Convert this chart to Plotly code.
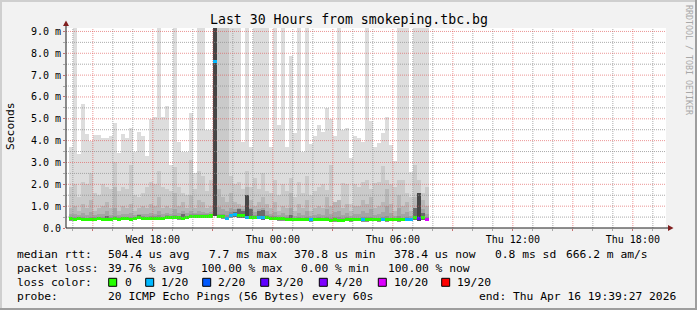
import plotly.graph_objects as go
import pandas as pd

# ---------------- data ----------------
TITLE = "Last 30 Hours from smokeping.tbc.bg"
START = "2026-04-15 13:39:27"
END = "2026-04-16 19:39:27"
FIRST_BAR = "2026-04-15 13:48:27"   # start of first 12-min consolidated step
STEP_MIN = 12
F = 12.0   # value beyond the top of the chart

# median rtt per 12-min step (ms)
median = [0.42,0.41,0.42,0.41,0.38,0.40,0.41,0.42,0.41,0.39,0.41,0.42,0.41,0.42,0.42,0.41,0.43,0.47,0.44,0.43,
          0.44,0.44,0.45,0.44,0.50,0.48,0.47,0.46,0.45,0.47,0.52,0.53,0.52,0.54,0.53,0.55,
          7.62,
          0.52,0.51,0.45,0.58,0.60,0.57,0.56,0.50,0.48,0.48,0.47,0.46,0.47,
          0.45,0.44,0.42,0.42,0.41,0.41,0.39,0.38,0.38,0.38,0.37,0.38,0.38,0.38,
          0.38,0.35,0.37,0.36,0.36,0.38,0.37,0.38,0.38,0.38,0.37,0.38,0.38,0.37,0.38,0.37,0.38,0.38,0.37,0.38,0.38,0.38,
          0.47,0.42,0.47,0.38]
# lost pings out of 20 per step
loss = [0]*36 + [1] + [0,0,1,1,1,0,0,1,0,0,1,1,0] + [0]*10 + [1] + [0]*12 + [1] + [0]*4 + [1] + [0]*5 + [1,1] + [0,3,0,10]
# fastest ping (bottom of smoke)
ping_min = [0.34,0.33,0.35,0.33,0.31,0.33,0.34,0.35,0.34,0.32,0.34,0.35,0.34,0.35,0.35,0.34,0.36,0.39,0.37,0.36,
            0.37,0.37,0.38,0.37,0.42,0.40,0.39,0.38,0.37,0.39,0.44,0.45,0.44,0.46,0.45,0.47,
            0.55,
            0.44,0.43,0.37,0.48,0.50,0.48,0.47,0.42,0.40,0.40,0.39,0.38,0.39,
            0.37,0.36,0.34,0.34,0.33,0.33,0.31,0.30,0.30,0.30,0.29,0.30,0.30,0.30,
            0.30,0.27,0.29,0.28,0.28,0.30,0.29,0.30,0.30,0.26,0.29,0.30,0.30,0.29,0.30,0.29,0.30,0.30,0.29,0.30,0.30,0.30,
            0.38,0.34,0.38,0.30]
# slowest ping (outer smoke)
smoke_max = [3.7,F,3.4,5.7,4.3,4.0,4.27,4.27,4.13,4.13,4.2,4.83,3.43,4.3,4.1,4.6,3.5,4.4,4.2,3.3,
             5.0,5.1,F,5.1,5.6,2.9,F,3.96,3.5,3.5,5.25,2.5,F,F,4.5,4.5,
             F,
             F,F,F,F,F,F,3.96,F,3.73,F,F,F,F,
             3.73,F,4.7,F,3.73,7.88,4.36,F,3.46,F,3.86,4.2,4.73,4.38,
             5.49,4.99,4.19,F,4.47,4.56,3.2,4.19,4.1,3.96,F,4.88,3.69,3.9,4.36,5.1,3.81,3.05,F,F,F,2.55,
             F,F,F,F]
# 2nd slowest ping
smoke_p19 = [1.9,2.0,1.4,2.1,2.0,2.5,1.6,1.5,2.0,1.9,1.8,3.0,1.7,1.9,1.8,2.9,1.5,1.4,1.6,1.9,
             2.1,2.0,2.6,1.9,1.8,1.7,2.8,1.9,1.6,1.5,3.1,1.8,2.6,2.4,1.7,2.2,
             F,
             F,F,F,2.4,2.0,2.1,1.8,2.6,1.9,2.3,1.8,2.5,1.7,
             1.6,2.2,1.5,2.0,1.7,2.3,1.4,2.1,1.6,2.4,1.5,1.7,1.9,2.0,
             1.75,2.9,1.15,1.2,2.06,2.0,1.1,2.0,1.9,2.1,2.2,1.8,2.06,2.1,2.85,2.2,2.0,1.9,2.2,2.2,1.6,1.4,
             2.9,2.2,1.6,1.9]
smoke_p18 = [0.9,1.0,0.8,1.1,0.9,1.3,0.8,0.9,1.0,1.2,0.9,1.9,0.8,1.0,0.9,1.1,0.8,0.9,1.0,0.9,
             1.1,1.0,1.4,0.9,1.0,0.9,1.6,1.0,1.2,0.9,1.5,0.9,1.3,1.2,0.9,1.0,
             F,
             1.8,1.4,1.2,1.6,1.2,1.1,1.0,1.9,1.3,1.0,1.2,1.4,1.1,
             0.9,1.2,0.8,1.0,0.9,1.6,0.8,1.1,0.9,1.3,0.8,0.9,1.0,0.9,
             1.4,1.0,1.2,1.3,0.9,1.1,0.8,1.0,1.0,1.3,1.1,1.4,0.9,1.0,1.2,1.8,1.1,0.8,1.5,1.0,1.2,0.8,
             1.4,1.6,1.3,1.0]
smoke_p17 = [0.62,0.65,0.58,0.70,0.60,0.75,0.58,0.62,0.66,0.80,0.60,0.90,0.58,0.64,0.62,0.70,0.60,0.66,0.65,0.62,
             0.68,0.66,0.80,0.62,0.70,0.66,0.85,0.70,0.78,0.68,0.80,0.68,0.78,0.75,0.68,0.72,
             F,
             0.95,0.85,0.80,0.90,0.85,0.90,0.88,1.10,0.90,0.75,0.85,0.92,0.80,
             0.66,0.75,0.60,0.68,0.60,0.90,0.56,0.70,0.58,0.80,0.56,0.60,0.66,0.60,
             0.85,0.62,0.75,0.80,0.60,0.70,0.56,0.64,0.62,0.80,0.70,0.85,0.58,0.62,0.75,1.00,0.70,0.56,0.90,0.62,0.75,0.55,
             0.90,1.00,0.85,0.65]
smoke_p16 = [0.50,0.49,0.50,0.50,0.47,0.52,0.49,0.50,0.50,0.56,0.49,0.55,0.49,0.51,0.50,0.52,0.51,0.58,0.53,0.51,
             0.53,0.53,0.58,0.52,0.60,0.57,0.60,0.56,0.62,0.56,0.64,0.63,0.62,0.63,0.62,0.66,
             F,
             0.66,0.62,0.58,0.72,0.74,0.72,0.70,0.80,0.66,0.60,0.66,0.65,0.58,
             0.55,0.55,0.50,0.51,0.49,0.56,0.46,0.49,0.46,0.50,0.45,0.47,0.49,0.47,
             0.52,0.45,0.50,0.50,0.46,0.49,0.45,0.48,0.48,0.52,0.50,0.52,0.46,0.47,0.50,0.56,0.48,0.45,0.55,0.48,0.50,0.46,
             0.65,0.60,0.62,0.50]
N = len(median)
smoke_p14 = [None]*N
for i, v in {9:0.55, 17:0.6, 28:0.62, 35:0.65, 41:0.75, 42:0.85, 43:0.8, 45:0.85, 47:0.8, 48:0.82, 55:0.6, 86:0.9, 88:0.7}.items():
    smoke_p14[i] = v
smoke_p12 = [None]*N
for i, v in {36:F, 44:1.5, 87:1.6}.items():
    smoke_p12[i] = v

smoke_bands = [smoke_max, smoke_p19, smoke_p18, smoke_p17, smoke_p16, smoke_p14, smoke_p12]
smoke_colors = ["#dddddd", "#cacaca", "#b7b7b7", "#a4a4a4", "#919191", "#6b6b6b", "#454545"]

loss_labels = ["0", "1/20", "2/20", "3/20", "4/20", "10/20", "19/20"]
loss_counts = [0, 1, 2, 3, 4, 10, 19]
loss_colors = ["#26ff00", "#00b8ff", "#0059ff", "#5e00ff", "#7e00ff", "#dd00ff", "#ff0000"]

y_ticks = [0, 1, 2, 3, 4, 5, 6, 7, 8, 9]
y_ticktext = ["0.0"] + [f"{v:.1f} m" for v in y_ticks[1:]]

stats_rtt = [("median rtt:", 16), ("504.4 us avg", 107.3), ("7.7 ms max", 207.7), ("370.8 us min", 293.3),
             ("378.4 us now", 392.7), ("0.8 ms sd", 494), ("666.2 m am/s", 565)]
stats_loss = [("packet loss:", 16), ("39.76 % avg", 107.3), ("100.00 % max", 200), ("0.00 % min", 300),
              ("100.00 % now", 386.7)]
probe_line = [("probe:", 16), ("20 ICMP Echo Pings (56 Bytes) every 60s", 107.3),
              ("end: Thu Apr 16 19:39:27 2026", 478.3)]

# ---------------- geometry helpers ----------------
W, H = 697, 310
L, R, T, B = 66, 31, 28, 82
PW, PH = W - L - R, H - T - B
def px(x): return (x - L) / PW
def py(y): return (T + PH - y) / PH

FONT = "DejaVu Sans Mono"
MED_THICK = 0.14

times = pd.date_range(FIRST_BAR, periods=N, freq=f"{STEP_MIN}min") + pd.Timedelta(minutes=STEP_MIN / 2)
tstr = [t.strftime("%Y-%m-%d %H:%M:%S") for t in times]
width_ms = STEP_MIN * 60 * 1000

def loss_color(n):
    c = loss_colors[0]
    for cnt, col in zip(loss_counts, loss_colors):
        if n >= cnt:
            c = col
    return c

fig = go.Figure()
for band, col in zip(smoke_bands, smoke_colors):
    ys = [None if (v is None) else v - lo for v, lo in zip(band, ping_min)]
    fig.add_trace(go.Bar(x=tstr, y=ys, base=ping_min, width=width_ms, marker_color=col,
                         marker_line_width=0, hoverinfo="skip"))
fig.add_trace(go.Bar(x=tstr, y=[MED_THICK]*N, base=[m - MED_THICK/2 for m in median], width=width_ms,
                     marker_color=[loss_color(n) for n in loss], marker_line_width=0, hoverinfo="skip"))

shapes = []
GRID = "rgba(143,143,143,0.75)"
MGRID = "rgba(222,79,79,0.6)"
t0 = pd.Timestamp(START).ceil("h")
t_end = pd.Timestamp(END)
hours = pd.date_range(t0, t_end, freq="h")
for major in (False, True):
    for h in hours:
        if (h.hour % 3 == 0) != major:
            continue
        hs = h.strftime("%Y-%m-%d %H:%M:%S")
        shapes.append(dict(type="line", xref="x", yref="paper", x0=hs, x1=hs, y0=0, y1=1, layer="above",
                           line=dict(color=MGRID if major else GRID, width=1, dash="1px,1px")))
    for k in range(1, 19):
        v = k * 0.5
        if (k % 2 == 0) != major:
            continue
        shapes.append(dict(type="line", xref="paper", yref="y", x0=0, x1=1, y0=v, y1=v, layer="above",
                           line=dict(color=MGRID if major else GRID, width=1, dash="1px,1px")))

AXIS = "#1f1f1f"
ARROW = "#801f1f"
shapes.append(dict(type="line", xref="paper", yref="paper", x0=0, x1=px(669), y0=0, y1=0, layer="above",
                   line=dict(color=AXIS, width=1)))
shapes.append(dict(type="line", xref="paper", yref="paper", x0=0, x1=0, y0=0, y1=py(24), layer="above",
                   line=dict(color=AXIS, width=1)))
shapes.append(dict(type="path", xref="paper", yref="paper", layer="above", line=dict(width=0), fillcolor=ARROW,
                   path=f"M {px(668)},{py(225)} L {px(673.5)},{py(228)} L {px(668)},{py(231)} Z"))
shapes.append(dict(type="path", xref="paper", yref="paper", layer="above", line=dict(width=0), fillcolor=ARROW,
                   path=f"M {px(63)},{py(26)} L {px(66)},{py(20.5)} L {px(69)},{py(26)} Z"))
# frame
for x0, y0, x1, y1, c in [(0, 0, W, 2, "#cfcfcf"), (0, 0, 2, H, "#cfcfcf"),
                          (0, H - 2, W, H, "#9e9e9e"), (W - 2, 0, W, H, "#9e9e9e")]:
    shapes.append(dict(type="rect", xref="paper", yref="paper", x0=px(x0), x1=px(x1), y0=py(y0), y1=py(y1),
                       line=dict(width=0), fillcolor=c, layer="above"))

annotations = []
def text(xp, yp, s, size=11.3, color="black", angle=0, xanchor="left"):
    annotations.append(dict(xref="paper", yref="paper", x=px(xp), y=py(yp), text=s, showarrow=False,
                            xanchor=xanchor, yanchor="middle", textangle=angle,
                            font=dict(family=FONT, size=size, color=color), borderpad=0))

text(348.5, 19.5, TITLE, size=13.2, xanchor="center")
text(10, 126, "Seconds", angle=-90, xanchor="center")
text(689, 60, "RRDTOOL / TOBI OETIKER", size=8.3, color="#a8a8a8", angle=90, xanchor="center")

row_y = [254.3, 268.3, 282.3, 296.7]
for s, x in stats_rtt:
    text(x, row_y[0], s)
for s, x in stats_loss:
    text(x, row_y[1], s)
text(16, row_y[2], "loss color:")
box_x = [108.7, 145.7, 202.7, 260.7, 319.3, 378.3, 441.7]
lab_x = [124, 160, 217.3, 275.3, 334, 392.7, 456]
for lab, col, bx, lx in zip(loss_labels, loss_colors, box_x, lab_x):
    shapes.append(dict(type="rect", xref="paper", yref="paper", x0=px(bx), x1=px(bx + 8),
                       y0=py(row_y[2] - 4), y1=py(row_y[2] + 4), fillcolor=col,
                       line=dict(color="black", width=1), layer="above"))
    text(lx, row_y[2], lab)
for s, x in probe_line:
    text(x, row_y[3], s)

x_tickvals = pd.date_range("2026-04-15 15:00", "2026-04-16 18:00", freq="3h")
x_ticktext = [t.strftime("%a %H:%M") if t.hour % 6 == 0 else "" for t in x_tickvals]

fig.update_layout(
    width=W, height=H, margin=dict(l=L, r=R, t=T, b=B, autoexpand=False),
    paper_bgcolor="#f2f2f2", plot_bgcolor="#ffffff",
    barmode="overlay", bargap=0, showlegend=False,
    shapes=shapes, annotations=annotations,
    xaxis=dict(type="date", range=[START, END], showgrid=False, zeroline=False, showline=False,
               tickvals=[t.strftime("%Y-%m-%d %H:%M:%S") for t in x_tickvals], ticktext=x_ticktext,
               ticks="outside", ticklen=2, tickcolor=MGRID, tickwidth=1,
               tickfont=dict(family=FONT, size=10, color="black"),
               minor=dict(dtick=3600000, ticks="outside", ticklen=2, tickcolor=GRID, showgrid=False),
               fixedrange=True),
    yaxis=dict(range=[0, PH / 21.84], showgrid=False, zeroline=False, showline=False,
               tickvals=y_ticks, ticktext=y_ticktext,
               ticks="outside", ticklen=2, tickcolor=MGRID, tickwidth=1,
               tickfont=dict(family=FONT, size=10, color="black"),
               minor=dict(dtick=0.5, ticks="outside", ticklen=2, tickcolor=GRID, showgrid=False),
               fixedrange=True),
)

fig.write_html("out.html")
